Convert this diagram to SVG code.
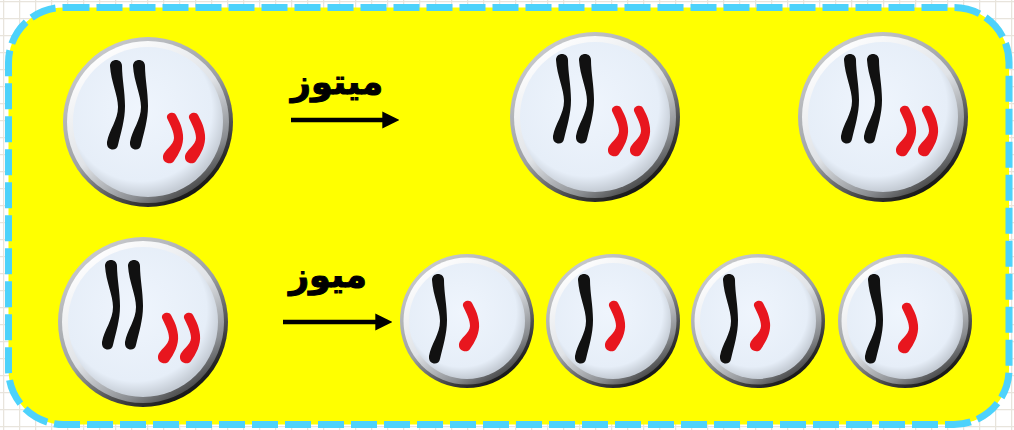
<svg xmlns="http://www.w3.org/2000/svg" width="1014" height="430" viewBox="0 0 1014 430">
  <defs>
    <pattern id="grid" width="16" height="17" patternUnits="userSpaceOnUse" x="3" y="1">
      <path d="M0 0.5 H16 M0.5 0 V17" fill="none" stroke="#e8e4dc" stroke-width="1.5"/>
    </pattern>
    <linearGradient id="rimOuter" x1="0.2" y1="0.05" x2="0.8" y2="0.95">
      <stop offset="0" stop-color="#c9cbce"/>
      <stop offset="0.5" stop-color="#9c9fa3"/>
      <stop offset="0.82" stop-color="#3a3a3a"/>
      <stop offset="1" stop-color="#0e0e0e"/>
    </linearGradient>
    <linearGradient id="rimInner" x1="0.2" y1="0.05" x2="0.8" y2="0.95">
      <stop offset="0" stop-color="#ffffff"/>
      <stop offset="0.5" stop-color="#e0e3e7"/>
      <stop offset="0.82" stop-color="#8a8d91"/>
      <stop offset="1" stop-color="#3c3c3c"/>
    </linearGradient>
    <radialGradient id="cytoplasm" cx="0.45" cy="0.42" r="0.58">
      <stop offset="0" stop-color="#eff5fd"/>
      <stop offset="0.82" stop-color="#e6eef8"/>
      <stop offset="1" stop-color="#c4cbd4"/>
    </radialGradient>
    <!-- long dark chromosome, origin at its top end -->
    <path id="chromLong" d="M-6 4 C-5 20 2 33 2 45 C2 58 -7 68 -9 80 C-10 89 1 90 2 83 C5 70 9 58 9 44 C9 30 6 16 6 4 C6 -4 -6 -4 -6 4 Z"/>
    <!-- short red chromosome, origin at its top end -->
    <path id="chromShort" d="M-4 2 C-1 9 3 15 3 22 C3 29 -7 34 -8 40 C-9 48 1 49 3 45 C8 38 13 29 12 19 C11 9 7 3 5 -1 C3 -5 -5 -3 -4 2 Z"/>
    <marker id="arrowHead" viewBox="0 0 10 10" refX="1" refY="5" markerWidth="3.8" markerHeight="3.8" orient="auto" markerUnits="strokeWidth">
      <path d="M0 0 L10 5 L0 10 Z" fill="#000"/>
    </marker>
  </defs>
  <style>
    .rim-o { fill: url(#rimOuter); }
    .rim-i { fill: url(#rimInner); }
    .cyto { fill: url(#cytoplasm); }
    .dark { fill: #111111; }
    .red { fill: #e8161e; }
    .label { font-family: "DejaVu Sans", "Noto Sans", sans-serif; font-weight: bold; font-size: 35px; fill: #000; stroke: #000; stroke-width: 1; text-anchor: middle; }
    .arrow { stroke: #000; stroke-width: 4.5; fill: none; }
  </style>

  <!-- background grid and frame -->
  <rect width="1014" height="430" fill="#ffffff"/>
  <rect width="1014" height="430" fill="url(#grid)"/>
  <rect x="8.5" y="7.5" width="1000.5" height="417" rx="55" ry="55" fill="#ffff00" stroke="#4dd2fb" stroke-width="7" stroke-dasharray="26 7"/>

  <!-- connectors -->
  <g id="connectors">
    <g id="mitosis-arrow">
      <line class="arrow" x1="291" y1="120" x2="384" y2="120" marker-end="url(#arrowHead)"/>
      <text class="label" x="337" y="94">ميتوز</text>
    </g>
    <g id="meiosis-arrow">
      <line class="arrow" x1="283" y1="322" x2="377" y2="322" marker-end="url(#arrowHead)"/>
      <text class="label" x="328" y="287">ميوز</text>
    </g>
  </g>

  <!-- parent cell, mitosis row -->
  <g id="cell-mitosis-parent" transform="translate(148 122)">
    <circle class="rim-o" r="85"/>
    <circle class="rim-i" r="81"/>
    <circle class="cyto" r="75"/>
    <use href="#chromLong" class="dark" x="-32" y="-60"/>
    <use href="#chromLong" class="dark" x="-9" y="-60"/>
    <use href="#chromShort" class="red" x="23" y="-6"/>
    <use href="#chromShort" class="red" x="45" y="-6"/>
  </g>

  <!-- daughter cells, mitosis -->
  <g id="cell-mitosis-1" transform="translate(595 117)">
    <circle class="rim-o" r="85"/>
    <circle class="rim-i" r="81"/>
    <circle class="cyto" r="75"/>
    <use href="#chromLong" class="dark" x="-33" y="-61"/>
    <use href="#chromLong" class="dark" x="-10" y="-61"/>
    <use href="#chromShort" class="red" x="21" y="-8"/>
    <use href="#chromShort" class="red" x="43" y="-8"/>
  </g>
  <g id="cell-mitosis-2" transform="translate(883 117)">
    <circle class="rim-o" r="85"/>
    <circle class="rim-i" r="81"/>
    <circle class="cyto" r="75"/>
    <use href="#chromLong" class="dark" x="-33" y="-61"/>
    <use href="#chromLong" class="dark" x="-10" y="-61"/>
    <use href="#chromShort" class="red" x="21" y="-8"/>
    <use href="#chromShort" class="red" x="43" y="-8"/>
  </g>

  <!-- parent cell, meiosis row -->
  <g id="cell-meiosis-parent" transform="translate(143 322)">
    <circle class="rim-o" r="85"/>
    <circle class="rim-i" r="81"/>
    <circle class="cyto" r="75"/>
    <use href="#chromLong" class="dark" x="-32" y="-60"/>
    <use href="#chromLong" class="dark" x="-9" y="-60"/>
    <use href="#chromShort" class="red" x="23" y="-6"/>
    <use href="#chromShort" class="red" x="45" y="-6"/>
  </g>

  <!-- gametes, meiosis -->
  <g id="cell-meiosis-1" transform="translate(467 321)">
    <circle class="rim-o" r="67"/>
    <circle class="rim-i" r="63.5"/>
    <circle class="cyto" r="58"/>
    <use href="#chromLong" class="dark" x="-29" y="-45"/>
    <use href="#chromShort" class="red" x="0" y="-17"/>
  </g>
  <g id="cell-meiosis-2" transform="translate(613 321)">
    <circle class="rim-o" r="67"/>
    <circle class="rim-i" r="63.5"/>
    <circle class="cyto" r="58"/>
    <use href="#chromLong" class="dark" x="-29" y="-45"/>
    <use href="#chromShort" class="red" x="0" y="-17"/>
  </g>
  <g id="cell-meiosis-3" transform="translate(758 321)">
    <circle class="rim-o" r="67"/>
    <circle class="rim-i" r="63.5"/>
    <circle class="cyto" r="58"/>
    <use href="#chromLong" class="dark" x="-29" y="-45"/>
    <use href="#chromShort" class="red" x="0" y="-17"/>
  </g>
  <g id="cell-meiosis-4" transform="translate(905 321)">
    <circle class="rim-o" r="67"/>
    <circle class="rim-i" r="63.5"/>
    <circle class="cyto" r="58"/>
    <use href="#chromLong" class="dark" x="-31" y="-45"/>
    <use href="#chromShort" class="red" x="1" y="-15"/>
  </g>
</svg>
